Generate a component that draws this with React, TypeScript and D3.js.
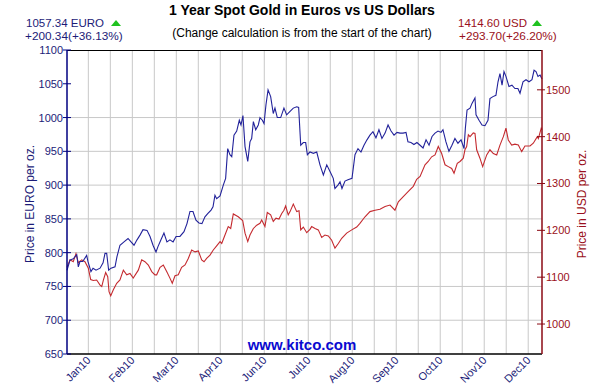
import React from 'react';
import * as d3 from 'd3';

const W = 604;
const H = 384;

const title = '1 Year Spot Gold in Euros vs US Dollars';
const subtitle = '(Change calculation is from the start of the chart)';
const eurLast = '1057.34 EURO';
const eurChange = '+200.34(+36.13%)';
const usdLast = '1414.60 USD';
const usdChange = '+293.70(+26.20%)';

const eurTicks = [650, 700, 750, 800, 850, 900, 950, 1000, 1050, 1100];
const eurGridValues = [700, 750, 800, 850, 900, 950, 1000];
const usdTicks = [1000, 1100, 1200, 1300, 1400, 1500];
const monthLabels = ['Jan10', 'Feb10', 'Mar10', 'Apr10', 'Jun10', 'Jul10', 'Aug10', 'Sep10', 'Oct10', 'Nov10', 'Dec10'];

// [day offset, EUR price]
const eurSeries: [number, number][] = [
  [0, 774], [2.3, 789], [4.8, 791], [7.5, 797], [8.7, 779], [10, 787], [12.1, 787], [15.1, 796], [16.1, 787],
  [18.4, 772], [20, 777], [22.3, 774], [25.4, 777], [27.7, 785], [29.2, 799], [30.5, 799], [32, 774], [33.8, 777],
  [36.9, 779], [38.4, 794], [40.7, 811], [43.8, 816], [46.9, 821], [49.2, 816], [51.5, 811], [53.8, 819], [56.1, 826],
  [58.4, 834], [61.5, 833], [63.8, 824], [66.1, 811], [68.4, 801], [69.9, 809], [72.2, 819], [74.5, 829], [76.8, 816],
  [79.1, 819], [81.5, 816], [83.8, 824], [86.8, 824], [89.9, 831], [92.2, 843], [94.5, 861], [96.8, 861], [99.1, 848],
  [101.4, 844], [103.7, 843], [106, 853], [108.3, 858], [110.7, 863], [112.2, 868], [113.7, 885], [115, 880], [117.6, 884],
  [120.1, 900], [121.9, 910], [123.5, 954], [125.2, 945], [126.6, 942], [128.3, 974], [130.4, 980], [132.4, 996],
  [133.7, 989], [135.2, 1003], [136.8, 957], [138.9, 935], [140.6, 964], [141.9, 969], [143.2, 994], [145, 982],
  [147, 989], [148.3, 1000], [150.1, 996], [151.4, 991], [152.9, 1019], [154.5, 1041], [156.5, 1031], [158.5, 1006],
  [159.8, 1014], [161.6, 1000], [164.2, 1000], [166.7, 1014], [168.8, 1004], [171.4, 1009], [173.9, 1014], [176.5, 1016],
  [178, 1015], [179.6, 959], [181.6, 963], [183.4, 963], [184.7, 945], [186.7, 949], [189.3, 947], [191.9, 949],
  [194.4, 930], [197, 915], [199.6, 930], [202.1, 920], [204.6, 910], [205.9, 895], [208.2, 900], [209.8, 905],
  [211.3, 895], [213.6, 906], [215.9, 908], [219, 910], [221.3, 945], [223.6, 954], [225.9, 949], [228.2, 959],
  [230.5, 967], [232.8, 974], [235.1, 979], [237.4, 970], [239.7, 982], [242, 969], [244.4, 977], [246.7, 989],
  [249, 980], [251.3, 974], [253.6, 978], [255.9, 977], [258.2, 977], [260.5, 978], [262, 964], [264.3, 963],
  [266.6, 960], [268.9, 963], [271.3, 959], [273.6, 955], [275.9, 967], [278.2, 959], [280.5, 972], [282.8, 977],
  [285.1, 980], [287.4, 978], [288.9, 982], [291.2, 964], [293.5, 950], [295.8, 959], [298.1, 969], [300.4, 962],
  [302.8, 967], [305.1, 954], [306.1, 984], [307.4, 1011], [309.7, 1014], [311.2, 1021], [313.5, 1029], [314.3, 1004],
  [316.6, 996], [318.9, 989], [321.2, 988], [323.5, 996], [325, 1028], [327.3, 1031], [329.6, 1033], [331.2, 1053],
  [332.7, 1065], [334.3, 1048], [335.8, 1068], [337.3, 1061], [339.6, 1046], [341.9, 1048], [344.2, 1043], [346.5, 1043],
  [348.1, 1036], [350.4, 1053], [352.7, 1056], [355, 1053], [357.3, 1056], [358.9, 1070], [360.4, 1068], [361.9, 1061],
  [363.5, 1063], [365, 1057],
];

// [day offset, USD price]
const usdSeries: [number, number][] = [
  [0, 1121], [2.3, 1137], [4.8, 1133], [6.9, 1150], [8.7, 1131], [11.3, 1137], [13.8, 1133], [16.4, 1119], [18.2, 1095],
  [20.2, 1093], [22.8, 1094], [25.4, 1083], [26.7, 1080], [27.9, 1093], [29.7, 1110], [31.3, 1101], [32.3, 1069],
  [33.6, 1060], [35.6, 1073], [38.2, 1087], [40.7, 1094], [43.3, 1115], [45.9, 1105], [48.4, 1108], [50.9, 1098],
  [54.8, 1115], [57.4, 1137], [59.9, 1133], [62.5, 1126], [65.1, 1112], [67.6, 1105], [68.9, 1105], [71.5, 1121],
  [74, 1126], [76.6, 1112], [79.1, 1098], [80.9, 1087], [83, 1103], [85.5, 1105], [88.1, 1121], [90.7, 1126],
  [93.2, 1140], [95.8, 1158], [98.4, 1154], [100.9, 1156], [103.5, 1137], [105.3, 1133], [107.3, 1140], [109.9, 1147],
  [112.4, 1158], [115, 1167], [117.6, 1176], [118.9, 1172], [121.4, 1190], [123.9, 1208], [125.8, 1204], [127.8, 1235],
  [131.6, 1229], [135, 1221], [136.8, 1194], [138.9, 1176], [140.6, 1190], [143.2, 1204], [145.8, 1211], [148.3, 1215],
  [149.6, 1222], [152.1, 1208], [153.9, 1238], [156.5, 1233], [158.5, 1219], [160.6, 1226], [162.9, 1224], [165, 1236],
  [166.7, 1243], [168, 1252], [170, 1233], [171.4, 1240], [173.9, 1256], [176.5, 1240], [178.3, 1242], [179.6, 1201],
  [181.6, 1207], [184.2, 1195], [186.7, 1202], [188, 1208], [190.6, 1204], [193.1, 1201], [195.7, 1185], [198.2, 1190],
  [200.8, 1188], [203.4, 1179], [205.9, 1162], [208.5, 1172], [211.1, 1183], [214.9, 1194], [218.8, 1201], [222.6, 1207],
  [225.1, 1215], [229, 1229], [232.8, 1240], [236.7, 1243], [240.5, 1245], [244.4, 1251], [248.2, 1254], [252, 1243],
  [254.6, 1261], [258.4, 1272], [262.3, 1283], [266.1, 1294], [268.7, 1309], [271.3, 1315], [275.1, 1340], [277.6, 1347],
  [280.2, 1357], [282.8, 1361], [285.3, 1379], [287.9, 1364], [290.5, 1340], [293, 1336], [295.6, 1332], [297.4, 1322],
  [299.9, 1343], [302, 1347], [304.5, 1354], [305.8, 1372], [307.1, 1379], [308.4, 1404], [309.7, 1400], [312.2, 1408],
  [313.5, 1407], [314.8, 1372], [317.3, 1354], [319.4, 1336], [322.5, 1361], [325, 1372], [327.6, 1364], [330.2, 1361],
  [332.7, 1382], [335.3, 1400], [337.3, 1418], [339.1, 1393], [341.7, 1382], [344.2, 1384], [346.8, 1382], [349.4, 1368],
  [351.9, 1380], [355.8, 1380], [358.3, 1386], [361.4, 1400], [362.2, 1396], [364.4, 1418], [365, 1415],
];

const FONT = '"Liberation Sans", Arial, Helvetica, sans-serif';
const NAVY = '#1c1c78';
const DARKRED = '#9a1020';
const BLUE_LINE = '#22229a';
const RED_LINE = '#c42a2f';
const GRID = '#c8c8c8';

export default function App() {
  const left = 67;
  const right = 542;
  const top = 50;
  const bottom = 354;

  const x = d3.scaleLinear().domain([0, 365]).range([left, right]);
  const yE = d3.scaleLinear().domain([650, 1100]).range([bottom, top]);
  const yU = d3.scaleLinear().domain([936, 1585]).range([bottom, top]);

  const gridDays = d3.range(21).map((i) => 16.4 + i * 16.9);
  const labelDays = gridDays.filter((_, i) => i % 2 === 0);

  const eurLine = d3.line<[number, number]>().x((d) => x(d[0])).y((d) => yE(d[1]))(eurSeries) || '';
  const usdLine = d3.line<[number, number]>().x((d) => x(d[0])).y((d) => yU(d[1]))(usdSeries) || '';

  const tri = (cx: number, cy: number) => `M${cx - 5},${cy + 3} L${cx + 5},${cy + 3} L${cx},${cy - 3} Z`;

  return (
    <div style={{ position: 'absolute', left: 0, top: 0 }}>
      <svg width={W} height={H} style={{ display: 'block', background: '#fff' }} fontFamily={FONT}>
        <rect x={0} y={0} width={W} height={H} fill="#fff" />
        {gridDays.map((d, i) => (
          <line key={'vg' + i} x1={x(d)} x2={x(d)} y1={top} y2={bottom} stroke={GRID} strokeWidth={1} />
        ))}
        {eurGridValues.map((v) => (
          <line key={'hg' + v} x1={left} x2={right} y1={yE(v)} y2={yE(v)} stroke={GRID} strokeWidth={1} />
        ))}
        <text x={302} y={350} textAnchor="middle" fontSize={15} fontWeight="bold" fill="#0a0ad0">www.kitco.com</text>
        <path d={usdLine} fill="none" stroke={RED_LINE} strokeWidth={1.1} />
        <path d={eurLine} fill="none" stroke={BLUE_LINE} strokeWidth={1.1} />
        <line x1={left} x2={right} y1={top + 0.5} y2={top + 0.5} stroke="#000" strokeWidth={1} />
        <line x1={left} x2={right} y1={bottom} y2={bottom} stroke="#000" strokeWidth={1.5} />
        <line x1={left} x2={left} y1={top} y2={bottom} stroke="#000080" strokeWidth={1.5} />
        <line x1={right} x2={right} y1={top} y2={bottom} stroke="#8b0a14" strokeWidth={1.5} />
        {eurTicks.map((v) => (
          <g key={'et' + v}>
            <line x1={left - 4} x2={left + 4} y1={yE(v)} y2={yE(v)} stroke="#000080" strokeWidth={1} />
            <text x={left - 4} y={yE(v) + 4} textAnchor="end" fontSize={11} fill={NAVY}>{v}</text>
          </g>
        ))}
        {usdTicks.map((v) => (
          <g key={'ut' + v}>
            <line x1={right - 5} x2={right + 3} y1={yU(v)} y2={yU(v)} stroke="#8b0a14" strokeWidth={1} />
            <text x={right + 4} y={yU(v) + 4} textAnchor="start" fontSize={11} fill={DARKRED}>{v}</text>
          </g>
        ))}
        {labelDays.map((d, i) => (
          <text
            key={'xl' + i}
            x={0}
            y={0}
            transform={`translate(${x(d) + 3},${bottom + 7}) rotate(-45)`}
            textAnchor="end"
            fontSize={11}
            fill={NAVY}
          >
            {monthLabels[i]}
          </text>
        ))}
        <text transform={`translate(34,${(top + bottom) / 2 + 2}) rotate(-90)`} textAnchor="middle" fontSize={12} fill={NAVY}>
          Price in EURO per oz.
        </text>
        <text transform={`translate(586,${(top + bottom) / 2 + 2}) rotate(-90)`} textAnchor="middle" fontSize={12} fill={DARKRED}>
          Price in USD per oz.
        </text>
        <text x={302} y={15} textAnchor="middle" fontSize={14} fontWeight="bold" fill="#000">{title}</text>
        <text x={302} y={37} textAnchor="middle" fontSize={12} fill="#000">{subtitle}</text>
        <text x={26} y={27} fontSize={11.5} fill={NAVY}>{eurLast}</text>
        <path d={tri(116, 23)} fill="#1fc21f" />
        <text x={25} y={40} fontSize={11.8} fill={NAVY}>{eurChange}</text>
        <text x={458} y={27} fontSize={11.5} fill={DARKRED}>{usdLast}</text>
        <path d={tri(537, 23)} fill="#1fc21f" />
        <text x={459} y={40} fontSize={11.8} fill={DARKRED}>{usdChange}</text>
      </svg>
    </div>
  );
}
